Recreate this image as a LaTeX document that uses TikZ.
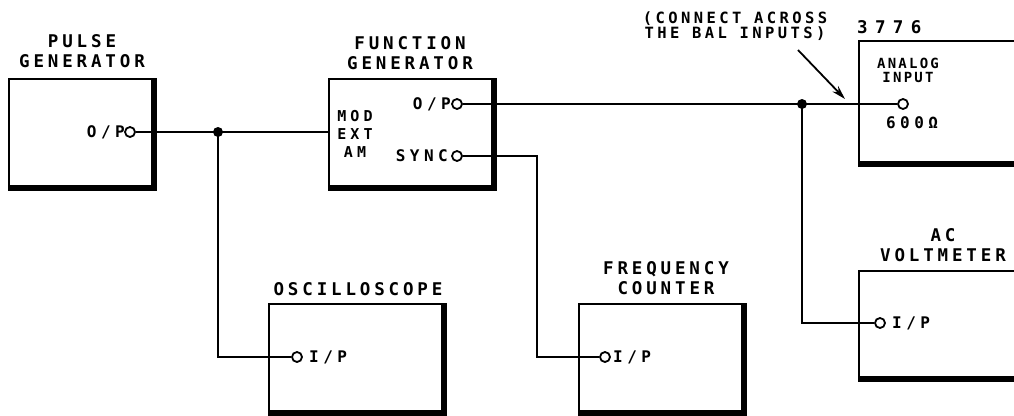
\documentclass[tikz,border=0pt]{standalone}
\usepackage{fontspec}
\newfontfamily\fa{DejaVu Sans Mono}[LetterSpace=22]
\newfontfamily\fb{DejaVu Sans Mono}[LetterSpace=16]
\newfontfamily\fc{DejaVu Sans Mono}[LetterSpace=28]
\newfontfamily\fd{DejaVu Sans Mono}[LetterSpace=42]
\usetikzlibrary{arrows.meta}
\begin{document}
\begin{tikzpicture}[x=1pt,y=-1pt,
 title/.style={font=\fa\bfseries\fontsize{17.5}{20}\selectfont, align=center, inner sep=0pt},
 lbl/.style={font=\fc\bfseries\fontsize{16}{18}\selectfont, inner sep=0pt},
 small/.style={font=\fc\bfseries\fontsize{15}{18}\selectfont, align=center, inner sep=0pt},
 ainput/.style={font=\fb\bfseries\fontsize{14}{14}\selectfont, align=center, inner sep=0pt},
 note/.style={font=\fa\bfseries\fontsize{15.5}{15}\selectfont, align=center, inner sep=0pt},
 devname/.style={font=\fd\bfseries\fontsize{17.5}{20}\selectfont, inner sep=0pt},
 box/.style={draw, line width=1.8pt, anchor=north west, inner sep=0pt},
 shade/.style={line width=5.5pt},
 port/.style={circle, draw, fill=white, inner sep=0pt, minimum size=10pt, line width=1.8pt},
 dot/.style={circle, fill, inner sep=0pt, minimum size=10pt},
 wire/.style={line width=1.8pt},
]
\useasboundingbox (0,0) rectangle (1014,415);
\clip (0,0) rectangle (1014,415);
% boxes
\node[box, minimum width=144pt, minimum height=108pt] (pg) at (8,78) {};
\node[box, minimum width=164pt, minimum height=108pt] (fg) at (328,78) {};
\node[box, minimum width=174pt, minimum height=108pt] (osc) at (268,303) {};
\node[box, minimum width=164pt, minimum height=108pt] (fc) at (578,303) {};
\node[box, minimum width=200pt, minimum height=122pt] (dev) at (858,40) {};
\node[box, minimum width=200pt, minimum height=107pt] (acv) at (858,270) {};
\foreach \b in {pg,fg,osc,fc,dev,acv}
  \draw[shade] (\b.north east) -- (\b.south east) -- (\b.south west);
% titles
\node[title] (pgt) at (82,51) {PULSE\\GENERATOR};
\node[title] (fgt) at (410,53) {FUNCTION\\GENERATOR};
\node[title] (osct) at (358,289) {OSCILLOSCOPE};
\node[title] (fct) at (666,278) {FREQUENCY\\COUNTER};
\node[title] (acvt) at (943,245) {AC\\VOLTMETER};
\node[devname, anchor=west] (devt) at (857,27) {3776};
\node[note] (notet) at (735,26) {(CONNECT ACROSS\\THE BAL INPUTS)};
% inner labels
\node[lbl, anchor=east] (pgol) at (125,132) {O/P};
\node[lbl, anchor=east] (fgol) at (451,104) {O/P};
\node[lbl, anchor=east] (fgsl) at (448,156) {SYNC};
\node[small] (fgm) at (355,134) {MOD\\EXT\\AM};
\node[lbl, anchor=west] (oscl) at (309,357) {I/P};
\node[lbl, anchor=west] (fcl) at (613,357) {I/P};
\node[lbl, anchor=west] (acvl) at (892,323) {I/P};
\node[ainput] (ainl) at (908,70) {ANALOG\\INPUT};
\node[lbl] (ohm) at (912,123) {600Ω};
% ports
\node[port] (pgo) at (130,132) {};
\node[port] (fgo) at (457,104) {};
\node[port] (fgs) at (457,156) {};
\node[port] (osci) at (297,357) {};
\node[port] (fci) at (605,357) {};
\node[port] (acvi) at (880,323) {};
\node[port] (ain) at (903,104) {};
% junctions
\node[dot] (j1) at (218,132) {};
\node[dot] (j2) at (802,104) {};
\coordinate (fgin) at (328,132);
\coordinate (sc) at (537,156);
% wires
\draw[wire] (pgo.east) -- (j1.center) -- (fgin);
\draw[wire] (j1.center) |- (osci.west);
\draw[wire] (fgs.east) -- (sc) |- (fci.west);
\draw[wire] (fgo.east) -- (ain.west);
\draw[wire] (j2.center) |- (acvi.west);
% arrow
\coordinate (as) at (798,50);
\coordinate (ae) at (845,99);
\draw[wire, -{Stealth[length=14pt,width=8pt]}] (as) -- (ae);
\end{tikzpicture}
\end{document}
